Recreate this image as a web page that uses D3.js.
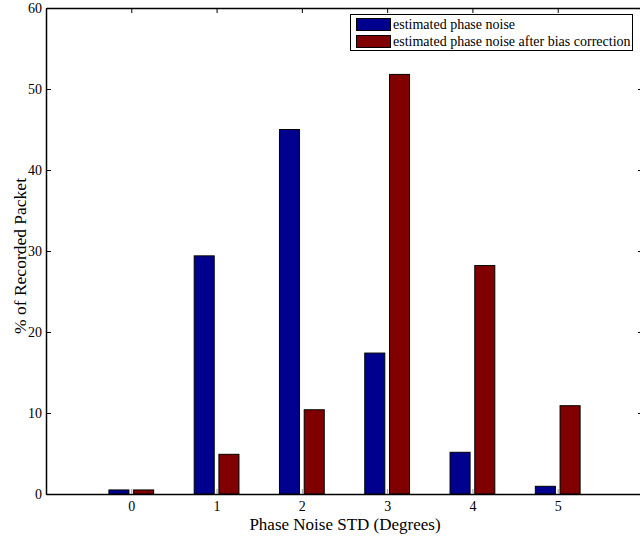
<!DOCTYPE html>
<html>
<head>
<meta charset="utf-8">
<script src="https://cdn.jsdelivr.net/npm/d3@7"></script>
<style>
body { margin: 0; background: #fff; }
svg { display: block; overflow: hidden; }
svg text { font-family: "Liberation Serif", "Times New Roman", "DejaVu Serif", serif; fill: #000; }
</style>
</head>
<body>
<div id="chart"></div>
<script>
const categories = [0, 1, 2, 3, 4, 5];
const estimated = [0.5, 29.4, 45.0, 17.4, 5.15, 0.95];
const corrected = [0.5, 4.9, 10.4, 51.8, 28.2, 10.9];
const seriesNames = ["estimated phase noise", "estimated phase noise after bias correction"];
const yTicks = [0, 10, 20, 30, 40, 50, 60];

const width = 640, height = 536;
const serif = '"Liberation Serif", "Times New Roman", "DejaVu Serif", serif';
const svg = d3.select("#chart").append("svg")
    .attr("width", width)
    .attr("height", height);

const x = d3.scaleLinear().domain([-1, 6]).range([46, 643]);
const y = d3.scaleLinear().domain([0, 60]).range([494, 8]);
const bw = x(0.235) - x(0);
const offs = [-0.145, 0.145];
const colors = ["#00008f", "#800000"];

const plot = svg.append("g");
[estimated, corrected].forEach((vals, si) => {
    plot.selectAll(".bar" + si)
        .data(vals)
        .enter()
        .append("rect")
        .attr("x", (d, i) => x(categories[i] + offs[si]) - bw / 2)
        .attr("y", d => y(d))
        .attr("width", bw)
        .attr("height", d => y(0) - y(d))
        .attr("fill", colors[si])
        .attr("stroke", "#000")
        .attr("stroke-width", 1);
});

// axes, ticks point inward like matlab
const fmt = d3.format("d");
const gxb = svg.append("g").attr("transform", `translate(0,${y(0)})`)
    .call(d3.axisBottom(x).tickValues(categories).tickFormat(fmt).tickSize(-5).tickPadding(7).tickSizeOuter(0));
const gxt = svg.append("g").attr("transform", `translate(0,${y(60)})`)
    .call(d3.axisTop(x).tickValues(categories).tickSize(-5).tickFormat("").tickSizeOuter(0));
const gyl = svg.append("g").attr("transform", `translate(${x(-1)},0)`)
    .call(d3.axisLeft(y).tickValues(yTicks).tickFormat(fmt).tickSize(-5).tickPadding(4).tickSizeOuter(0));
const gyr = svg.append("g").attr("transform", `translate(${x(6)},0)`)
    .call(d3.axisRight(y).tickValues(yTicks).tickSize(-5).tickFormat("").tickSizeOuter(0));

[gxb, gxt, gyl, gyr].forEach(g => {
    g.attr("font-family", serif).attr("font-size", 14);
    g.select(".domain").attr("stroke", "#000").attr("stroke-width", 1.5);
    g.selectAll(".tick line").attr("stroke", "#000");
});
gxb.selectAll(".tick line").attr("stroke", "#999");

svg.append("text")
    .attr("x", 345)
    .attr("y", 530)
    .attr("text-anchor", "middle")
    .attr("font-size", 17)
    .text("Phase Noise STD (Degrees)");

svg.append("text")
    .attr("transform", "translate(26,256) rotate(-90)")
    .attr("text-anchor", "middle")
    .attr("font-size", 17.5)
    .text("% of Recorded Packet");

// legend
const lg = svg.append("g");
lg.append("rect")
    .attr("x", 350.5).attr("y", 14.5)
    .attr("width", 282).attr("height", 36)
    .attr("fill", "#fff").attr("stroke", "#000");
seriesNames.forEach((name, i) => {
    lg.append("rect")
        .attr("x", 356.5).attr("y", 18.5 + i * 17)
        .attr("width", 34).attr("height", 12)
        .attr("fill", colors[i]).attr("stroke", "#000");
    lg.append("text")
        .attr("x", 393).attr("y", 29 + i * 17)
        .attr("font-size", 14)
        .text(name);
});
</script>
</body>
</html>
